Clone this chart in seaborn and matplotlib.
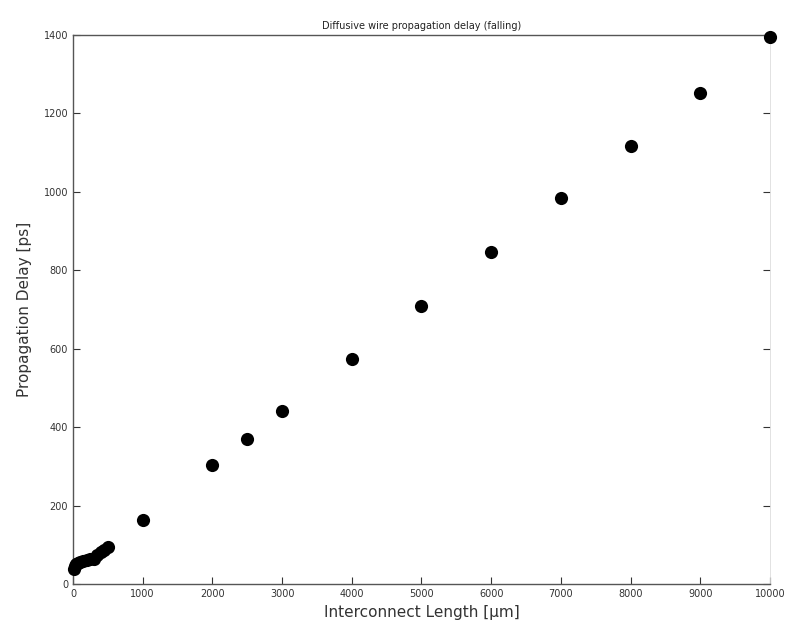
import matplotlib
matplotlib.use("Agg")
import matplotlib.pyplot as plt
import seaborn as sns
import pandas as pd

length_um = [10, 25, 50, 75, 100, 150, 200, 250, 300, 350, 400, 450, 500,
             1000, 2000, 2500, 3000, 4000, 5000, 6000, 7000, 8000, 9000, 10000]
delay_ps = [40, 47, 52, 55, 57, 60, 62, 63, 65, 75, 82, 88, 94,
            164, 304, 370, 442, 575, 710, 847, 985, 1117, 1252, 1395]
x_ticks = [0, 1000, 2000, 3000, 4000, 5000, 6000, 7000, 8000, 9000, 10000]
y_ticks = [0, 200, 400, 600, 800, 1000, 1200, 1400]

sns.set_theme(style="white")
plt.rcParams['font.family'] = ['DejaVu Sans']

df = pd.DataFrame({"x": length_um, "y": delay_ps})

fig = plt.figure(figsize=(7.93, 6.35), dpi=100)
ax = fig.add_axes([0.092, 0.080, 0.879, 0.865])
sns.scatterplot(data=df, x="x", y="y", ax=ax, color="black", s=90,
                edgecolor="black", linewidth=0, clip_on=False, zorder=3)

ax.set_xlim(0, 10000)
ax.set_ylim(0, 1400)
ax.set_xticks(x_ticks)
ax.set_yticks(y_ticks)
ax.tick_params(direction="in", length=5, width=0.8, colors="#333333",
               labelsize=7, top=False, right=True, left=True, bottom=True)
for side in ["top", "bottom", "left"]:
    ax.spines[side].set_color("#555555")
    ax.spines[side].set_linewidth(1.0)
ax.spines["right"].set_color("#dddddd")
ax.spines["right"].set_linewidth(0.6)

ax.set_xlabel("Interconnect Length [µm]", fontsize=11, color="#333333")
ax.set_ylabel("Propagation Delay [ps]", fontsize=11, color="#333333", labelpad=8)
ax.set_title("Diffusive wire propagation delay (falling)", fontsize=7,
             color="#222222", pad=4)

fig.savefig("out.png", dpi=100)
